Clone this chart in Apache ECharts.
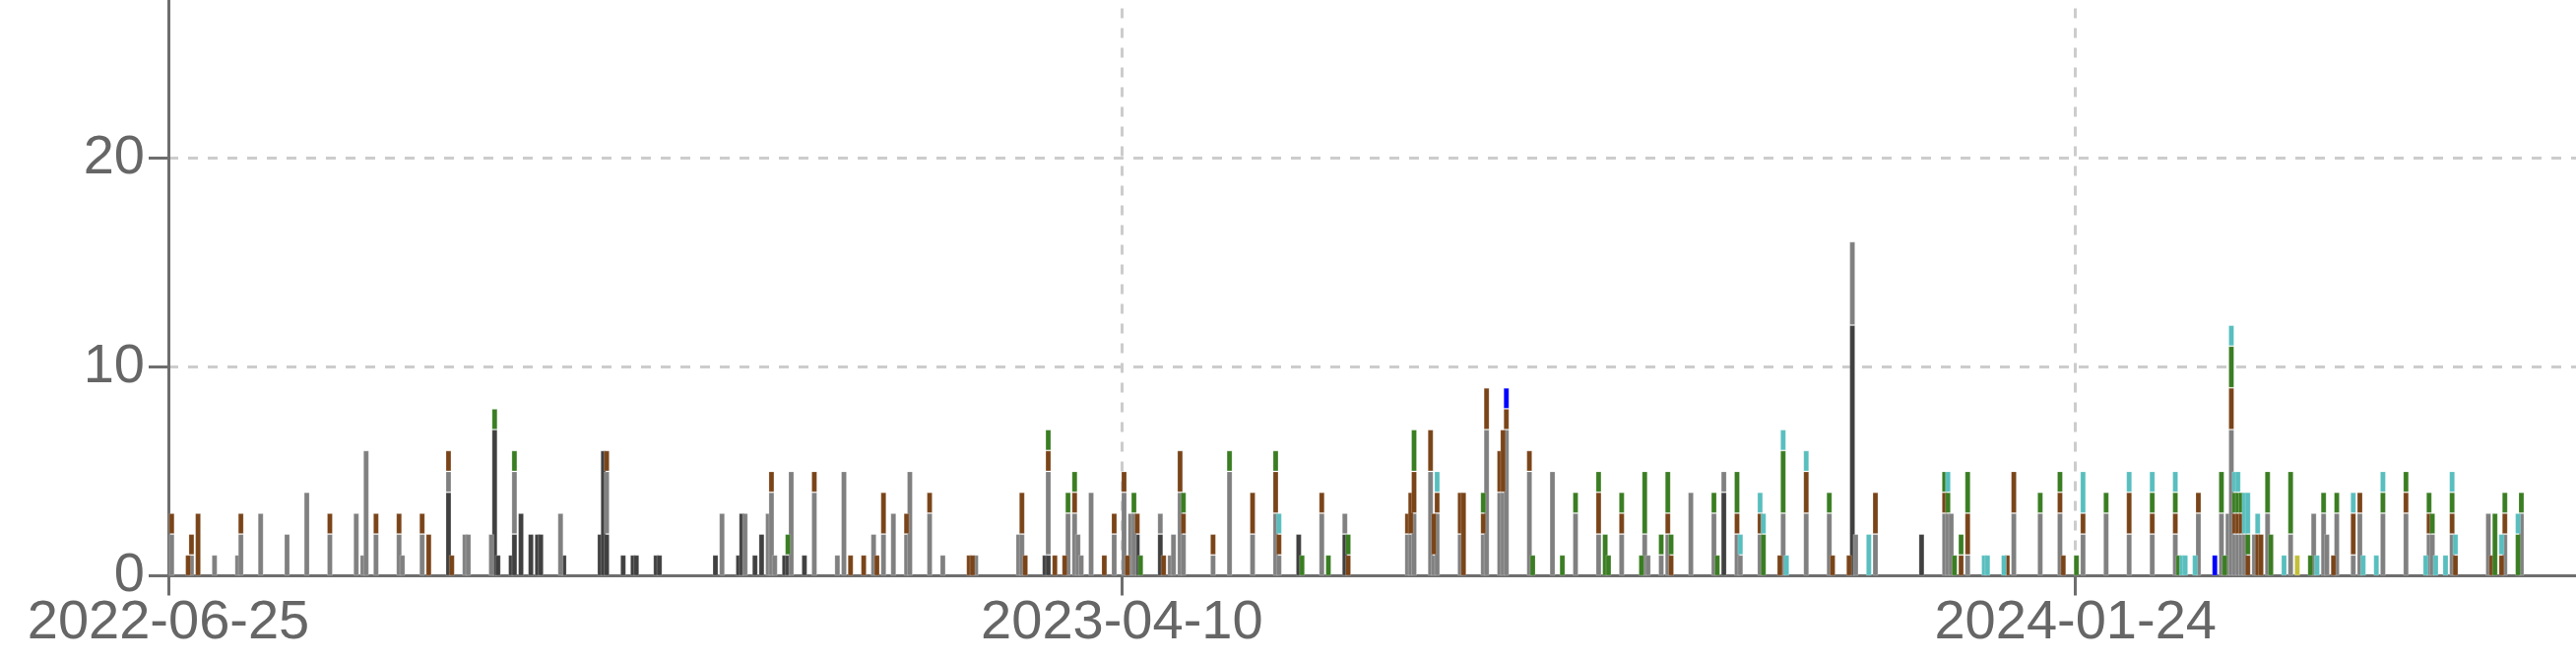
<!DOCTYPE html>
<html>
<head>
<meta charset="utf-8">
<script src="https://cdn.jsdelivr.net/npm/echarts@6/dist/echarts.min.js"></script>
<style>
html,body{margin:0;padding:0;width:2616px;height:672px;overflow:hidden;background:#ffffff;}
#chart{position:absolute;left:0;top:-100px;width:3220px;height:772px;}
</style>
</head>
<body>
<div id="chart"></div>
<script>
// ---- data (x = days after START_DATE, value = count) ----
const START_DATE = '2022-06-25';
const AXIS_DAYS = 868;               // daily categories shown on the (partly off-screen) axis
const X_TICK_INTERVAL_MS = 2.5e10;   // spacing of the date ticks
const Y_MAX = 30;
const Y_INTERVAL = 10;

const darkGray = [[85,4],[99,7],[100,1],[104,1],[105,2],[107,3],[110,2],[112,2],[113,2],[120,1],[131,2],[132,6],[133,2],[138,1],[141,1],[142,1],[148,1],[149,1],[166,1],[173,1],[174,3],[178,1],[180,2],[187,1],[188,1],[193,1],[266,1],[267,1],[294,2],[301,2],[343,2],[357,2],[472,4],[511,12],[532,2]];

const gray = [[1,2],[7,1],[14,1],[21,1],[22,2],[28,3],[36,2],[42,4],[49,2],[57,3],[59,1],[60,6],[63,2],[70,2],[71,1],[77,2],[85,1],[90,2],[91,2],[98,2],[105,3],[119,3],[133,3],[168,3],[175,3],[182,3],[183,4],[184,1],[189,5],[196,4],[203,1],[205,5],[214,2],[217,2],[220,3],[224,2],[225,5],[231,3],[235,1],[245,1],[258,2],[259,2],[267,4],[273,3],[275,3],[276,2],[277,1],[280,4],[287,2],[290,4],[292,3],[293,3],[301,1],[304,1],[305,2],[307,4],[308,2],[317,1],[322,5],[329,2],[336,3],[337,1],[350,3],[357,1],[376,2],[377,2],[378,3],[383,5],[384,1],[385,3],[392,2],[399,2],[400,7],[404,4],[405,4],[406,7],[413,5],[420,5],[427,3],[434,2],[441,2],[448,2],[449,1],[453,1],[455,2],[462,4],[469,3],[472,1],[476,2],[477,1],[483,2],[490,3],[497,3],[504,3],[511,4],[512,2],[518,2],[539,3],[540,3],[541,3],[546,1],[560,3],[568,3],[574,3],[581,2],[588,3],[595,2],[602,2],[609,2],[616,3],[623,3],[625,3],[626,7],[627,2],[628,2],[629,2],[630,2],[633,2],[637,3],[644,2],[651,3],[654,3],[655,2],[658,3],[663,1],[665,3],[672,3],[679,3],[686,2],[687,2],[693,2],[704,3],[709,2],[714,3]];

const brown = [[1,1],[6,1],[7,1],[9,3],[22,1],[49,1],[63,1],[70,1],[77,1],[79,2],[85,1],[86,1],[133,1],[183,1],[196,1],[207,1],[211,1],[215,1],[217,2],[224,1],[231,1],[243,1],[244,1],[259,2],[260,1],[267,1],[269,1],[272,1],[275,1],[284,1],[287,1],[290,1],[291,1],[294,1],[302,1],[307,2],[308,1],[317,1],[329,2],[336,2],[337,1],[350,1],[358,1],[376,1],[377,2],[378,2],[383,2],[384,2],[385,1],[392,2],[393,4],[399,1],[400,2],[404,2],[405,3],[406,1],[413,1],[434,2],[441,1],[455,1],[456,1],[476,1],[483,1],[489,1],[497,2],[505,1],[510,1],[518,2],[539,1],[544,1],[546,2],[558,1],[560,2],[574,1],[575,1],[581,1],[595,2],[602,1],[609,1],[616,1],[626,2],[627,1],[628,1],[629,1],[631,1],[634,2],[635,2],[657,1],[663,2],[665,1],[679,1],[686,1],[693,1],[694,1],[705,1],[708,1],[709,1]];

const green = [[99,1],[105,1],[188,1],[267,1],[273,1],[275,1],[293,1],[295,1],[308,1],[322,1],[336,1],[344,1],[352,1],[358,1],[378,2],[399,1],[414,1],[423,1],[427,1],[434,1],[436,2],[437,1],[441,1],[447,1],[448,3],[453,1],[455,2],[456,1],[469,1],[470,1],[476,2],[484,2],[490,3],[504,1],[539,1],[540,1],[542,1],[544,1],[546,2],[568,1],[574,1],[579,1],[588,1],[602,1],[609,1],[610,1],[623,2],[624,1],[626,2],[627,1],[628,1],[629,1],[631,1],[637,2],[638,2],[644,3],[650,1],[654,1],[658,1],[672,1],[679,1],[686,1],[687,1],[693,1],[706,3],[709,1],[713,2],[714,1]];

const cyan = [[337,1],[385,1],[477,1],[483,1],[484,1],[490,1],[491,1],[497,1],[516,2],[540,1],[551,1],[552,1],[557,1],[581,2],[595,1],[602,1],[609,1],[611,1],[612,1],[615,1],[626,1],[627,1],[628,1],[630,2],[631,2],[634,1],[642,1],[652,1],[663,1],[666,1],[670,1],[672,1],[685,1],[688,1],[691,1],[693,1],[694,1],[708,1],[713,1]];

const blue = [[406,1],[621,1]];

const yellow = [[646,1]];

// ---- build chart ----
const DAY_MS = 86400000;
const t0 = Date.parse(START_DATE + 'T00:00:00Z');
const fmtDate = ms => new Date(ms).toISOString().slice(0, 10);

const categories = [];
for (let d = 0; d <= AXIS_DAYS; d++) categories.push(fmtDate(t0 + d * DAY_MS));

const seriesDefs = [
  { name: 'dark',   data: darkGray, color: '#404040' },
  { name: 'gray',   data: gray,     color: '#808080' },
  { name: 'brown',  data: brown,    color: '#7a4419' },
  { name: 'green',  data: green,    color: '#3a7d22' },
  { name: 'cyan',   data: cyan,     color: '#58bebe' },
  { name: 'blue',   data: blue,     color: '#0000ff' },
  { name: 'yellow', data: yellow,   color: '#c2bf3a' }
];

const series = seriesDefs.map(s => {
  const vals = categories.map(() => '-');
  s.data.forEach(([d, v]) => { vals[d] = v; });
  return {
    type: 'bar',
    name: s.name,
    stack: 'total',
    xAxisIndex: 0,
    barWidth: 6,
    animation: false,
    itemStyle: { color: s.color, borderColor: 'rgba(255,255,255,0.22)', borderWidth: 1 },
    emphasis: { disabled: true },
    data: vals
  };
});

const axisGray = '#6e6e6e';
const labelGray = '#666666';
const fontFam = '"Liberation Sans", Arial, sans-serif';
const gridLine = { show: true, lineStyle: { color: '#cccccc', width: 3, type: [10, 10] } };

const chart = echarts.init(document.getElementById('chart'), null, { renderer: 'canvas' });
chart.setOption({
  animation: false,
  backgroundColor: '#ffffff',
  grid: { left: 171, top: 48.5, width: 2975.7, height: 636, containLabel: false },
  xAxis: [
    {
      type: 'category',
      data: categories,
      boundaryGap: false,
      position: 'bottom',
      axisLine: { show: false },
      axisTick: { show: false },
      axisLabel: { show: false },
      splitLine: { show: false }
    },
    {
      type: 'value',
      position: 'bottom',
      min: t0,
      max: t0 + AXIS_DAYS * DAY_MS,
      interval: X_TICK_INTERVAL_MS,
      axisLine: { show: true, onZero: false, lineStyle: { color: axisGray, width: 3 } },
      axisTick: { show: true, length: 20, lineStyle: { color: axisGray, width: 3 } },
      axisLabel: {
        margin: 20, fontSize: 56, color: labelGray, fontFamily: fontFam,
        formatter: v => fmtDate(v)
      },
      splitLine: gridLine
    }
  ],
  yAxis: {
    type: 'value',
    min: 0, max: Y_MAX, interval: Y_INTERVAL,
    axisLine: { show: true, onZero: false, lineStyle: { color: axisGray, width: 3 } },
    axisTick: { show: true, length: 20, lineStyle: { color: axisGray, width: 3 } },
    axisLabel: { margin: 24, fontSize: 56, color: labelGray, fontFamily: fontFam },
    splitLine: gridLine
  },
  series: series
});
</script>
</body>
</html>
